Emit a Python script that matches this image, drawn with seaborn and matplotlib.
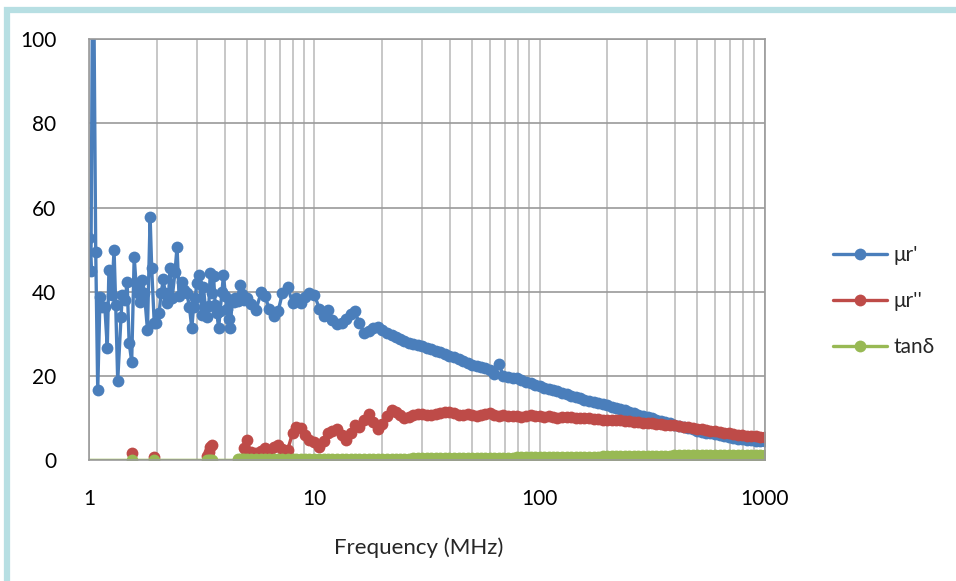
import pandas as pd
import matplotlib
matplotlib.use('Agg')
import matplotlib.pyplot as plt
import matplotlib.patches as patches
from matplotlib.ticker import LogLocator, NullFormatter, FixedLocator, FixedFormatter
import seaborn as sns

# frequencies (MHz), noisy low band
freq_low = [1.00, 1.015, 1.037, 1.066, 1.088, 1.114, 1.14, 1.17, 1.20, 1.22,
            1.256, 1.286, 1.308, 1.335, 1.381, 1.40, 1.44, 1.47, 1.50, 1.54,
            1.58, 1.61, 1.65, 1.68, 1.72, 1.755, 1.81, 1.86, 1.89, 1.94,
            1.97, 2.04, 2.08, 2.13, 2.17, 2.21, 2.24, 2.28, 2.33, 2.40,
            2.45, 2.50, 2.57, 2.63, 2.71, 2.78, 2.85, 2.90, 2.95, 3.00,
            3.08, 3.16, 3.21, 3.27, 3.33, 3.39, 3.44, 3.50, 3.56, 3.62,
            3.68, 3.75, 3.81, 3.88, 3.94, 4.02, 4.08, 4.15, 4.23, 4.30,
            4.37, 4.45, 4.55, 4.68, 4.76, 4.84]

freq_high = [5.0, 5.2, 5.5, 5.8, 6.0, 6.3, 6.6, 6.9, 7.2, 7.6,
             8.0, 8.3, 8.7, 9.1, 9.5, 10, 10.5, 11, 11.5, 12,
             12.6, 13.2, 13.8, 14.5, 15.1, 15.8, 16.6, 17.4, 18.2, 19.1,
             20, 21, 22, 23, 24, 25, 26.3, 27.5, 28.8, 30.2,
             31.6, 33, 34.7, 36.3, 38, 39.8, 41.7, 43.7, 45.7, 47.9,
             50, 52.5, 55, 57.5, 60.3, 63, 66, 69, 72.4, 75.9,
             79.4, 83, 87, 91.2, 95.5, 100, 105, 110, 115, 120,
             126, 132, 138, 145, 151, 158, 166, 174, 182, 191,
             200, 209, 219, 229, 240, 251, 263, 275, 288, 302,
             316, 331, 347, 363, 380, 398, 417, 437, 457, 479,
             501, 525, 550, 575, 603, 631, 661, 692, 724, 759,
             794, 832, 871, 912, 955, 1000]

# mu_r'
mu1_low = [52.7, 45.0, 135, 49.5, 16.6, 38.8, 36.4, 36.4, 26.7, 45.2,
           39.2, 50.0, 36.8, 18.8, 34.0, 39.2, 38.0, 42.4, 27.9, 23.4,
           48.3, 42.0, 39.7, 37.6, 42.8, 39.6, 30.9, 57.8, 45.6, 32.5,
           32.5, 35.0, 39.6, 42.9, 39.6, 37.3, 38.0, 45.6, 38.4, 44.8,
           50.7, 39.0, 42.4, 40.4, 39.6, 36.4, 31.3, 36.3, 38.5, 42.0,
           44.0, 34.5, 41.2, 36.4, 34.0, 36.5, 44.4, 39.6, 43.7, 36.8,
           35.0, 31.3, 35.5, 40.0, 44.0, 39.0, 36.0, 33.5, 31.3, 38.0,
           37.5, 38.6, 37.8, 41.6, 39.4, 38.0]
mu1_high = [38.5, 37.0, 35.7, 40.0, 39.0, 36.0, 34.3, 35.5, 39.6, 41.2,
            37.2, 38.4, 37.4, 38.8, 39.7, 39.2, 36.0, 34.2, 35.6, 33.2,
            32.3, 32.6, 33.4, 34.8, 35.3, 32.6, 30.3, 30.6, 31.4, 31.7,
            31.0, 30.2, 29.6, 29.3, 28.8, 28.3, 27.9, 27.6, 27.3, 27.0,
            26.6, 26.3, 26.0, 25.6, 25.1, 24.7, 24.4, 24.0, 23.6, 23.0,
            22.6, 22.4, 22.2, 21.9, 21.5, 20.4, 22.9, 20.0, 19.8, 19.6,
            19.4, 19.0, 18.6, 18.2, 17.8, 17.5, 17.2, 16.9, 16.6, 16.3,
            16.0, 15.6, 15.3, 15.0, 14.7, 14.3, 14.1, 13.8, 13.6, 13.3,
            13.0, 12.7, 12.4, 12.1, 11.8, 11.4, 11.1, 10.8, 10.5, 10.2,
            9.9, 9.6, 9.3, 9.0, 8.7, 8.4, 8.1, 7.8, 7.5, 7.3,
            7.0, 6.7, 6.5, 6.3, 6.1, 5.9, 5.7, 5.5, 5.3, 5.1,
            5.0, 4.8, 4.7, 4.6, 4.5, 4.4]

# mu_r''  (negative values fall below the axis, as in the original)
mu2_low = [-3, -3, -3, -3, -3, -3, -3, -3, -3, -3,
           -3, -3, -3, -3, -3, -3, -3, -3, -3, 1.6,
           -3, -3, -3, -3, -3, -3, -3, -3, -3, 0.6,
           -3, -3, -3, -3, -3, -3, -3, -3, -3, -3,
           -3, -3, -3, -3, -3, -3, -3, -3, -3, -3,
           -3, -3, -3, -3, 1.0, 2.0, 3.0, 3.6, -3, -3,
           -3, -3, -3, -3, -3, -3, -3, -3, -3, -3,
           -3, -3, -3, -3, -2, 2.8]
mu2_high = [4.8, 2.0, 1.6, 2.2, 2.8, 2.0, 3.2, 3.6, 2.6, 2.4,
            6.5, 7.9, 7.6, 6.0, 4.8, 4.2, 3.0, 4.5, 6.3, 7.0,
            7.3, 6.0, 4.8, 6.5, 8.3, 7.9, 9.5, 11.0, 9.0, 7.3,
            8.6, 10.5, 11.9, 11.3, 10.6, 9.9, 10.2, 10.8, 11.0, 10.9,
            10.6, 10.8, 11.0, 11.1, 11.3, 11.4, 11.2, 10.7, 10.8, 10.9,
            10.7, 10.4, 10.6, 11.0, 11.2, 10.8, 10.5, 10.7, 10.5, 10.4,
            10.5, 10.3, 10.5, 10.6, 10.5, 10.4, 10.3, 10.4, 10.1, 10.0,
            10.1, 10.2, 10.1, 10.0, 10.0, 9.9, 9.9, 9.8, 9.7, 9.6,
            9.6, 9.5, 9.4, 9.4, 9.3, 9.2, 9.1, 9.0, 8.9, 8.8,
            8.7, 8.6, 8.5, 8.4, 8.3, 8.2, 8.0, 7.9, 7.8, 7.6,
            7.4, 7.3, 7.1, 6.9, 6.8, 6.6, 6.5, 6.3, 6.2, 6.0,
            5.9, 5.8, 5.7, 5.6, 5.5, 5.4]

# tan delta
tan_low = [-0.1, -0.1, -0.1, -0.1, -0.1, -0.1, -0.1, -0.1, -0.1, -0.1,
           -0.1, -0.1, -0.1, -0.1, -0.1, -0.1, -0.1, -0.1, -0.1, 0.1,
           -0.1, -0.1, -0.1, -0.1, -0.1, -0.1, -0.1, -0.1, -0.1, 0.1,
           -0.1, -0.1, -0.1, -0.1, -0.1, -0.1, -0.1, -0.1, -0.1, -0.1,
           -0.1, -0.1, -0.1, -0.1, -0.1, -0.1, -0.1, -0.1, -0.1, -0.1,
           -0.1, -0.1, -0.1, -0.1, 0.1, 0.1, 0.1, 0.1, -0.1, -0.1,
           -0.1, -0.1, -0.1, -0.1, -0.1, -0.1, -0.1, -0.1, -0.1, -0.1,
           -0.1, -0.1, 0.12, 0.13, 0.14, 0.14]
tan_high = [0.15, 0.15, 0.16, 0.16, 0.17, 0.17, 0.18, 0.18, 0.19, 0.19,
            0.20, 0.20, 0.21, 0.21, 0.22, 0.22, 0.23, 0.23, 0.24, 0.24,
            0.25, 0.25, 0.26, 0.26, 0.27, 0.28, 0.28, 0.29, 0.30, 0.30,
            0.31, 0.32, 0.32, 0.33, 0.34, 0.35, 0.35, 0.36, 0.37, 0.38,
            0.39, 0.40, 0.41, 0.42, 0.43, 0.44, 0.45, 0.46, 0.47, 0.48,
            0.49, 0.50, 0.51, 0.52, 0.53, 0.54, 0.55, 0.56, 0.57, 0.58,
            0.59, 0.60, 0.62, 0.63, 0.64, 0.65, 0.66, 0.68, 0.69, 0.70,
            0.71, 0.73, 0.74, 0.75, 0.77, 0.78, 0.79, 0.81, 0.82, 0.84,
            0.85, 0.86, 0.88, 0.89, 0.91, 0.92, 0.94, 0.95, 0.97, 0.98,
            1.00, 1.01, 1.03, 1.04, 1.06, 1.07, 1.09, 1.10, 1.12, 1.13,
            1.14, 1.15, 1.16, 1.17, 1.18, 1.19, 1.20, 1.21, 1.22, 1.22,
            1.23, 1.23, 1.24, 1.24, 1.25, 1.25]

series_names = ["μr'", "μr''", "tanδ"]
colors = ['#4a7ebb', '#be4b48', '#98b954']

df = pd.DataFrame({
    'Frequency': freq_low + freq_high,
    series_names[0]: mu1_low + mu1_high,
    series_names[1]: mu2_low + mu2_high,
    series_names[2]: tan_low + tan_high,
})

sns.set_style('white')
plt.rcParams['font.family'] = ['Lato', 'DejaVu Sans']

fig = plt.figure(figsize=(9.56, 5.81), dpi=100)
ax = fig.add_axes([0.0936, 0.2083, 0.7061, 0.7241])

for name, col in zip(series_names, colors):
    # only show markers for points inside the visible range
    mask = [bool(v >= 0) for v in df[name]]
    sns.lineplot(data=df, x='Frequency', y=name, ax=ax, color=col, label=name,
                 marker='o', markersize=8.5, markeredgewidth=0, linewidth=2.4,
                 markevery=mask, estimator=None, sort=False)

ax.set_xscale('log')
ax.set_xlim(1, 1000)
ax.set_ylim(0, 100)
ax.set_yticks([0, 20, 40, 60, 80, 100])
ax.xaxis.set_major_locator(FixedLocator([1, 10, 100, 1000]))
ax.xaxis.set_major_formatter(FixedFormatter(['1', '10', '100', '1000']))
ax.xaxis.set_minor_locator(LogLocator(base=10, subs=range(2, 10)))
ax.xaxis.set_minor_formatter(NullFormatter())

ax.grid(True, which='major', axis='y', color='#9a9a9a', linewidth=1.2)
ax.grid(True, which='both', axis='x', color='#bdbdbd', linewidth=1.2)
ax.set_axisbelow(True)
for s in ax.spines.values():
    s.set_color('#9a9a9a')
    s.set_linewidth(1.2)

ax.tick_params(axis='both', which='both', length=0, labelsize=15, colors='black')
ax.tick_params(axis='y', pad=24)
ax.tick_params(axis='x', pad=21)
ax.set_ylabel('')
ax.set_xlabel('Frequency (MHz)', fontsize=16)
ax.xaxis.set_label_coords(0.488, -0.185)

handles, labels = ax.get_legend_handles_labels()
if ax.get_legend():
    ax.get_legend().remove()
fig.legend(handles, labels, loc='center left', bbox_to_anchor=(0.852, 0.482),
           frameon=False, fontsize=15, handlelength=2.6, labelspacing=1.25,
           handletextpad=0.3)

# light border around the chart area
fig.patches.append(patches.Rectangle((7 / 956, -0.05), 1.1, 1 - 10 / 581 + 0.05,
                                     transform=fig.transFigure, fill=False,
                                     edgecolor='#b7dfe3', linewidth=4.5))

fig.savefig('out.png', dpi=100)
